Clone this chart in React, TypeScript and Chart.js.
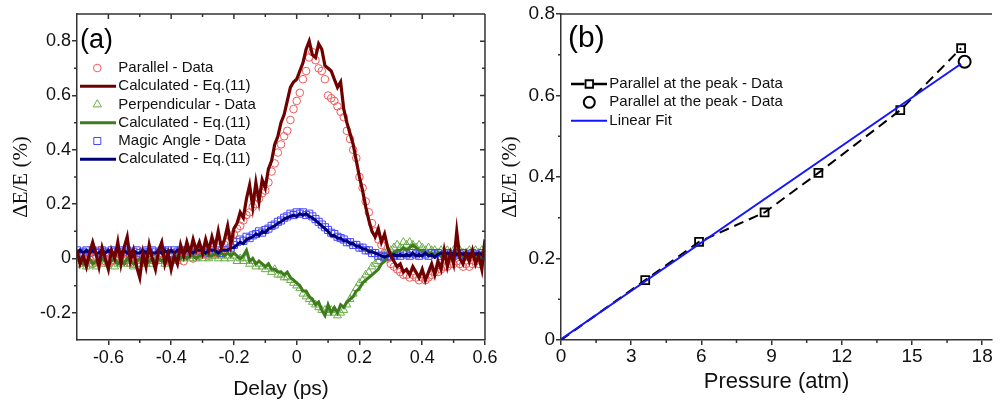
import React, { useEffect, useRef } from "react";
import { Chart, registerables } from "chart.js";

Chart.register(...registerables);

// ---------- Panel (a) data ----------
const delayPs = [
  -0.70, -0.69, -0.68, -0.67, -0.66, -0.65, -0.64, -0.63, -0.62, -0.61,
  -0.60, -0.59, -0.58, -0.57, -0.56, -0.55, -0.54, -0.53, -0.52, -0.51,
  -0.50, -0.49, -0.48, -0.47, -0.46, -0.45, -0.44, -0.43, -0.42, -0.41,
  -0.40, -0.39, -0.38, -0.37, -0.36, -0.35, -0.34, -0.33, -0.32, -0.31,
  -0.30, -0.29, -0.28, -0.27, -0.26, -0.25, -0.24, -0.23, -0.22, -0.21,
  -0.20, -0.19, -0.18, -0.17, -0.16, -0.15, -0.14, -0.13, -0.12, -0.11,
  -0.10, -0.09, -0.08, -0.07, -0.06, -0.05, -0.04, -0.03, -0.02, -0.01,
  0.00, 0.01, 0.02, 0.03, 0.04, 0.05, 0.06, 0.07, 0.08, 0.09,
  0.10, 0.11, 0.12, 0.13, 0.14, 0.15, 0.16, 0.17, 0.18, 0.19,
  0.20, 0.21, 0.22, 0.23, 0.24, 0.25, 0.26, 0.27, 0.28, 0.29,
  0.30, 0.31, 0.32, 0.33, 0.34, 0.35, 0.36, 0.37, 0.38, 0.39,
  0.40, 0.41, 0.42, 0.43, 0.44, 0.45, 0.46, 0.47, 0.48, 0.49,
  0.50, 0.51, 0.52, 0.53, 0.54, 0.55, 0.56, 0.57, 0.58, 0.59,
  0.60,
];

const parallelCalc = [
  0.03, -0.02, 0.01, -0.03, 0.02, 0.06, 0.02, -0.03, 0.04, 0.00,
  -0.04, 0.03, 0.00, 0.06, -0.02, 0.04, 0.08, -0.01, 0.03, -0.03,
  -0.07, 0.02, -0.03, 0.05, 0.00, -0.04, 0.03, 0.06, -0.02, 0.02,
  -0.04, 0.01, -0.02, 0.05, 0.01, 0.06, 0.02, 0.07, 0.03, 0.06,
  0.02, 0.07, 0.03, 0.08, 0.04, 0.10, 0.04, 0.07, 0.12, 0.05,
  0.11, 0.13, 0.17, 0.15, 0.22, 0.27, 0.19, 0.28, 0.21, 0.29,
  0.26, 0.33, 0.36, 0.42, 0.45, 0.50, 0.53, 0.58, 0.63, 0.65,
  0.66, 0.69, 0.72, 0.77, 0.80, 0.75, 0.74, 0.79, 0.77, 0.71,
  0.70, 0.69, 0.66, 0.63, 0.65, 0.55, 0.50, 0.46, 0.42, 0.36,
  0.30, 0.25, 0.19, 0.14, 0.10, 0.08, 0.11, 0.06, 0.09, 0.04,
  0.01, -0.01, -0.03, -0.02, -0.05, -0.04, -0.06, -0.03, -0.05, -0.07,
  -0.04, -0.08, -0.05, -0.02, -0.06, -0.01, -0.04, 0.03, -0.03, 0.02,
  -0.02, 0.10, 0.00, -0.02, 0.02, -0.01, 0.03, -0.02, 0.01, -0.04,
  0.07,
];

const perpendicularCalc = [
  -0.01, 0.00, -0.02, -0.01, 0.00, -0.02, -0.01, -0.02, 0.00, -0.01,
  -0.02, -0.01, 0.00, -0.02, -0.01, -0.02, 0.00, -0.01, -0.02, -0.01,
  0.00, -0.01, -0.02, -0.01, 0.00, -0.01, 0.00, -0.01, 0.00, -0.01,
  0.00, 0.00, 0.01, 0.00, 0.01, 0.00, 0.01, 0.01, 0.00, 0.01,
  0.01, 0.02, 0.01, 0.01, 0.02, 0.01, 0.02, 0.01, 0.02, 0.01,
  0.02, 0.01, 0.00, 0.01, 0.03, -0.01, 0.00, -0.02, -0.01, -0.02,
  -0.03, -0.02, -0.04, -0.04, -0.05, -0.05, -0.06, -0.05, -0.07, -0.08,
  -0.09, -0.10, -0.12, -0.12, -0.14, -0.15, -0.17, -0.16, -0.19, -0.21,
  -0.17, -0.20, -0.18, -0.20, -0.17, -0.18, -0.16, -0.15, -0.14, -0.12,
  -0.11, -0.09, -0.08, -0.07, -0.06, -0.05, -0.04, -0.02, -0.01, 0.01,
  0.02, 0.02, 0.03, 0.03, 0.04, 0.03, 0.04, 0.05, 0.04, 0.03,
  0.03, 0.02, 0.02, 0.02, 0.01, 0.02, 0.01, 0.02, 0.01, 0.02,
  0.01, 0.02, 0.01, 0.01, 0.02, 0.01, 0.02, 0.01, 0.02, 0.01,
  0.02,
];

const magicCalc = [
  0.02, 0.03, 0.02, 0.03, 0.02, 0.03, 0.02, 0.02, 0.03, 0.02,
  0.03, 0.02, 0.02, 0.03, 0.02, 0.03, 0.02, 0.02, 0.03, 0.02,
  0.02, 0.03, 0.02, 0.03, 0.02, 0.02, 0.03, 0.02, 0.03, 0.02,
  0.03, 0.02, 0.03, 0.03, 0.02, 0.03, 0.03, 0.02, 0.03, 0.03,
  0.03, 0.02, 0.03, 0.03, 0.03, 0.02, 0.03, 0.03, 0.03, 0.04,
  0.04, 0.05, 0.06, 0.055, 0.07, 0.075, 0.08, 0.09, 0.085, 0.10,
  0.095, 0.11, 0.115, 0.12, 0.13, 0.135, 0.145, 0.15, 0.155, 0.16,
  0.155, 0.165, 0.16, 0.165, 0.155, 0.15, 0.14, 0.13, 0.12, 0.11,
  0.10, 0.085, 0.085, 0.075, 0.075, 0.065, 0.065, 0.055, 0.055, 0.045,
  0.045, 0.035, 0.035, 0.025, 0.025, 0.02, 0.015, 0.01, 0.005, 0.01,
  0.01, 0.015, 0.01, 0.015, 0.01, 0.015, 0.01, 0.02, 0.01, 0.015,
  0.01, 0.02, 0.01, 0.015, 0.005, 0.015, 0.02, 0.015, 0.02, 0.015,
  0.02, 0.015, 0.02, 0.015, 0.02, 0.015, 0.02, 0.015, 0.02, 0.015,
  0.02,
];

const parallelData = [
  -0.02, 0.01, -0.01, 0.02, 0.00, -0.02, 0.01, 0.03, -0.01, 0.01,
  0.02, -0.01, 0.00, 0.02, 0.01, -0.01, 0.02, 0.00, -0.02, 0.01,
  0.00, -0.01, 0.02, 0.00, 0.01, -0.01, 0.01, 0.02, 0.00, -0.01,
  0.01, 0.00, 0.02, 0.01, -0.01, 0.01, 0.02, 0.00, 0.03, 0.01,
  0.02, 0.03, 0.01, 0.03, 0.02, 0.04, 0.03, 0.05, 0.06, 0.08,
  0.09, 0.11, 0.12, 0.14, 0.16, 0.17, 0.19, 0.20, 0.22, 0.24,
  0.25, 0.28, 0.32, 0.35, 0.39, 0.42, 0.45, 0.47, 0.51, 0.55,
  0.58, 0.61, 0.66, 0.69, 0.74, 0.76, 0.73, 0.70, 0.69, 0.66,
  0.60, 0.59, 0.58, 0.56, 0.54, 0.52, 0.47, 0.44, 0.40, 0.37,
  0.30, 0.26, 0.21, 0.17, 0.13, 0.10, 0.07, 0.05, 0.02, 0.00,
  -0.02, -0.03, -0.04, -0.05, -0.06, -0.06, -0.07, -0.06, -0.07, -0.08,
  -0.07, -0.08, -0.07, -0.06, -0.05, -0.05, -0.04, -0.03, -0.03, -0.02,
  -0.02, -0.01, -0.02, -0.03, -0.02, -0.03, -0.02, -0.01, -0.02, 0.00,
  0.01,
];

const perpendicularData = [
  -0.01, -0.02, 0.00, -0.03, -0.01, -0.02, -0.03, -0.01, -0.02, 0.00,
  -0.02, -0.01, -0.03, -0.02, -0.01, -0.02, -0.01, -0.02, -0.03, -0.01,
  -0.02, -0.01, -0.02, -0.01, -0.02, -0.01, 0.00, -0.01, -0.02, -0.01,
  -0.01, 0.00, -0.01, 0.00, 0.00, 0.01, 0.00, 0.01, 0.00, 0.01,
  0.00, 0.01, 0.00, 0.01, 0.01, 0.00, 0.01, 0.00, 0.01, 0.00,
  0.01, -0.01, 0.00, -0.01, 0.00, -0.02, -0.01, -0.03, -0.02, -0.03,
  -0.04, -0.03, -0.05, -0.04, -0.06, -0.06, -0.07, -0.07, -0.08, -0.09,
  -0.10, -0.11, -0.13, -0.14, -0.15, -0.16, -0.17, -0.18, -0.19, -0.19,
  -0.20, -0.19, -0.20, -0.21, -0.20, -0.19, -0.17, -0.15, -0.13, -0.11,
  -0.09, -0.08, -0.06, -0.05, -0.03, -0.02, -0.01, 0.01, 0.02, 0.03,
  0.03, 0.04, 0.05, 0.04, 0.06, 0.05, 0.06, 0.05, 0.04, 0.05,
  0.04, 0.03, 0.04, 0.03, 0.03, 0.02, 0.03, 0.02, 0.03, 0.02,
  0.03, 0.02, 0.03, 0.02, 0.02, 0.03, 0.02, 0.03, 0.02, 0.03,
  0.02,
];

const magicData = [
  0.03, 0.02, 0.025, 0.03, 0.02, 0.03, 0.025, 0.02, 0.03, 0.025,
  0.02, 0.03, 0.025, 0.02, 0.03, 0.025, 0.03, 0.02, 0.025, 0.03,
  0.02, 0.025, 0.03, 0.02, 0.03, 0.025, 0.02, 0.03, 0.025, 0.03,
  0.02, 0.03, 0.025, 0.03, 0.02, 0.03, 0.025, 0.03, 0.02, 0.03,
  0.025, 0.03, 0.02, 0.03, 0.025, 0.03, 0.02, 0.03, 0.03, 0.04,
  0.05, 0.06, 0.07, 0.065, 0.08, 0.075, 0.085, 0.09, 0.10, 0.095,
  0.105, 0.11, 0.12, 0.125, 0.135, 0.14, 0.15, 0.155, 0.165, 0.16,
  0.17, 0.165, 0.17, 0.16, 0.165, 0.155, 0.145, 0.135, 0.125, 0.115,
  0.105, 0.095, 0.09, 0.08, 0.075, 0.07, 0.06, 0.06, 0.05, 0.05,
  0.04, 0.04, 0.03, 0.03, 0.02, 0.02, 0.01, 0.01, 0.005, 0.01,
  0.005, 0.01, 0.015, 0.01, 0.02, 0.015, 0.01, 0.02, 0.015, 0.01,
  0.02, 0.015, 0.01, 0.02, 0.015, 0.02, 0.01, 0.015, 0.02, 0.015,
  0.01, 0.02, 0.015, 0.02, 0.01, 0.015, 0.02, 0.015, 0.01, 0.02,
  0.015,
];

const delayTicks = [-0.6, -0.4, -0.2, 0, 0.2, 0.4, 0.6];
const delayTickLabels = ["-0.6", "-0.4", "-0.2", "0", "0.2", "0.4", "0.6"];
const delayMinorTicks = [-0.5, -0.3, -0.1, 0.1, 0.3, 0.5];
const deltaTicksA = [-0.2, 0, 0.2, 0.4, 0.6, 0.8];
const deltaTickLabelsA = ["-0.2", "0", "0.2", "0.4", "0.6", "0.8"];
const deltaMinorTicksA = [-0.1, 0.1, 0.3, 0.5, 0.7];

// ---------- Panel (b) data ----------
const pressureAtm = [0, 3.6, 5.9, 8.7, 11.0, 14.5, 17.1];
const peakParallel = [0, 0.147, 0.241, 0.313, 0.41, 0.564, 0.716];
const extraPressure = [17.25];
const extraPeak = [0.683];
const fitPressure = [0, 17.1];
const fitPeak = [0.002, 0.678];

const pressureTicks = [0, 3, 6, 9, 12, 15, 18];
const pressureTickLabels = ["0", "3", "6", "9", "12", "15", "18"];
const pressureMinorTicks = [1.5, 4.5, 7.5, 10.5, 13.5, 16.5];
const deltaTicksB = [0, 0.2, 0.4, 0.6, 0.8];
const deltaTickLabelsB = ["0", "0.2", "0.4", "0.6", "0.8"];
const deltaMinorTicksB = [0.1, 0.3, 0.5, 0.7];

// ---------- styling ----------
const SANS = '"Liberation Sans", Arial, sans-serif';
const SERIF = '"Liberation Serif", "Times New Roman", serif';
const AXIS = "#333333";
const TEXT = "#111111";

const C_PAR_LINE = "#6e0000";
const C_PERP_LINE = "#3f7c1e";
const C_MAGIC_LINE = "#00007a";
const C_PAR_PT = "#ee5a5a";
const C_PERP_PT = "#6aae48";
const C_MAGIC_PT = "#4646ff";
const C_FIT = "#1414ff";

const pts = (xs: number[], ys: number[]) => xs.map((x, i) => ({ x, y: ys[i] }));

type LegendItem = {
  kind: "circle" | "triangle" | "square" | "line" | "lineSquare";
  color: string;
  width: number;
  size: number;
  text: string;
};

type Decor = {
  xMinor: number[];
  yMinor: number[];
  xMajor: number[];
  yMajor: number[];
  mirror: boolean;
  topLine: boolean;
  label: string;
  labelFont: string;
  labelX: number;
  labelY: number;
  legend: LegendItem[];
  legSym: number;
  legLine0: number;
  legLine1: number;
  legText: number;
  legY0: number;
  legStep: number;
  legFont: string;
};

function drawSymbol(ctx: CanvasRenderingContext2D, it: LegendItem, cx: number, cy: number, x0: number, x1: number) {
  ctx.save();
  ctx.strokeStyle = it.color;
  ctx.lineWidth = it.width;
  ctx.setLineDash([]);
  ctx.beginPath();
  if (it.kind === "circle") {
    ctx.arc(cx, cy, it.size, 0, Math.PI * 2);
  } else if (it.kind === "triangle") {
    const r = it.size;
    ctx.moveTo(cx, cy - r);
    ctx.lineTo(cx + 0.866 * r, cy + 0.5 * r);
    ctx.lineTo(cx - 0.866 * r, cy + 0.5 * r);
    ctx.closePath();
  } else if (it.kind === "square") {
    const h = it.size / 2;
    ctx.rect(cx - h, cy - h, it.size, it.size);
  } else if (it.kind === "line") {
    ctx.moveTo(x0, cy);
    ctx.lineTo(x1, cy);
  } else if (it.kind === "lineSquare") {
    const h = it.size / 2;
    ctx.moveTo(x0, cy);
    ctx.lineTo(cx - h - 1, cy);
    ctx.moveTo(cx + h + 1, cy);
    ctx.lineTo(x1, cy);
    ctx.stroke();
    ctx.beginPath();
    ctx.lineWidth = 1.8;
    ctx.rect(cx - h, cy - h, it.size, it.size);
  }
  ctx.stroke();
  ctx.restore();
}

function makeDecor(d: Decor) {
  return {
    id: "decor",
    afterDraw(chart: any) {
      const ctx: CanvasRenderingContext2D = chart.ctx;
      const { left, right, top, bottom } = chart.chartArea;
      const xs = chart.scales.x;
      const ys = chart.scales.y;
      ctx.save();
      ctx.strokeStyle = AXIS;
      ctx.lineWidth = 1.5;
      ctx.beginPath();
      for (const v of d.xMinor) {
        const p = xs.getPixelForValue(v);
        ctx.moveTo(p, bottom);
        ctx.lineTo(p, bottom + 3);
      }
      for (const v of d.yMinor) {
        const p = ys.getPixelForValue(v);
        ctx.moveTo(left, p);
        ctx.lineTo(left - 3, p);
      }
      if (d.topLine || d.mirror) {
        ctx.moveTo(left, top);
        ctx.lineTo(right, top);
      }
      if (d.mirror) {
        ctx.moveTo(right, top);
        ctx.lineTo(right, bottom);
        for (const v of d.xMajor) {
          const p = xs.getPixelForValue(v);
          ctx.moveTo(p, top);
          ctx.lineTo(p, top + 5);
        }
        for (const v of d.xMinor) {
          const p = xs.getPixelForValue(v);
          ctx.moveTo(p, top);
          ctx.lineTo(p, top + 3);
        }
        for (const v of d.yMajor) {
          const p = ys.getPixelForValue(v);
          ctx.moveTo(right, p);
          ctx.lineTo(right - 5, p);
        }
        for (const v of d.yMinor) {
          const p = ys.getPixelForValue(v);
          ctx.moveTo(right, p);
          ctx.lineTo(right - 3, p);
        }
      }
      ctx.stroke();

      // panel label
      ctx.fillStyle = "#000";
      ctx.font = d.labelFont;
      ctx.textAlign = "left";
      ctx.textBaseline = "alphabetic";
      ctx.fillText(d.label, left + d.labelX, top + d.labelY);

      // legend
      ctx.font = d.legFont;
      ctx.textBaseline = "middle";
      ctx.fillStyle = TEXT;
      d.legend.forEach((it, i) => {
        const cy = top + d.legY0 + i * d.legStep;
        drawSymbol(ctx, it, left + d.legSym, cy, left + d.legLine0, left + d.legLine1);
        ctx.fillStyle = TEXT;
        ctx.fillText(it.text, left + d.legText, cy);
      });
      ctx.restore();
    },
  };
}

function axisCommon(size: number) {
  return {
    grid: {
      display: true,
      drawOnChartArea: false,
      drawTicks: true,
      tickLength: 5,
      color: AXIS,
      lineWidth: 1.5,
    },
    border: { display: true, color: AXIS, width: 1.5 },
    fontSpec: { family: SANS, size },
  };
}

function configA(): any {
  const ca = axisCommon(18);
  return {
    type: "line",
    data: {
      datasets: [
        { label: "Calculated - Eq.(11)", data: pts(delayPs, parallelCalc), borderColor: C_PAR_LINE, borderWidth: 3.2, pointRadius: 0, tension: 0 },
        { label: "Calculated - Eq.(11) magic", data: pts(delayPs, magicCalc), borderColor: C_MAGIC_LINE, borderWidth: 3, pointRadius: 0, tension: 0 },
        { label: "Calculated - Eq.(11) perp", data: pts(delayPs, perpendicularCalc), borderColor: C_PERP_LINE, borderWidth: 3, pointRadius: 0, tension: 0 },
        { label: "Parallel - Data", data: pts(delayPs, parallelData), showLine: false, pointStyle: "circle", pointRadius: 3.8, pointBorderWidth: 1, pointBorderColor: C_PAR_PT, pointBackgroundColor: "rgba(0,0,0,0)" },
        { label: "Magic Angle - Data", data: pts(delayPs, magicData), showLine: false, pointStyle: "rect", pointRadius: 5, pointBorderWidth: 1, pointBorderColor: C_MAGIC_PT, pointBackgroundColor: "rgba(0,0,0,0)" },
        { label: "Perpendicular - Data", data: pts(delayPs, perpendicularData), showLine: false, pointStyle: "triangle", pointRadius: 4.6, pointBorderWidth: 1, pointBorderColor: C_PERP_PT, pointBackgroundColor: "rgba(0,0,0,0)" },
      ],
    },
    options: {
      animation: false,
      responsive: false,
      devicePixelRatio: 1,
      events: [],
      layout: { padding: { left: 0, right: 15, top: 14, bottom: 0 } },
      plugins: { legend: { display: false }, tooltip: { enabled: false } },
      scales: {
        x: {
          type: "linear",
          min: -0.7,
          max: 0.6,
          afterBuildTicks: (s: any) => { s.ticks = delayTicks.map((v) => ({ value: v })); },
          afterFit: (s: any) => { s.height = 62; },
          ticks: { font: ca.fontSpec, color: TEXT, padding: 2.5, maxRotation: 0, autoSkip: false, callback: (_v: any, i: number) => delayTickLabels[i] },
          grid: ca.grid,
          border: ca.border,
          title: { display: true, text: "Delay (ps)", color: TEXT, font: { family: SANS, size: 21 }, padding: { top: 0, bottom: 0 } },
        },
        y: {
          type: "linear",
          min: -0.3,
          max: 0.9,
          afterBuildTicks: (s: any) => { s.ticks = deltaTicksA.map((v) => ({ value: v })); },
          afterFit: (s: any) => { s.width = 77; },
          ticks: { font: ca.fontSpec, color: TEXT, padding: 1, autoSkip: false, callback: (_v: any, i: number) => deltaTickLabelsA[i] },
          grid: ca.grid,
          border: ca.border,
          title: { display: true, text: "ΔE/E (%)", color: TEXT, font: { family: SERIF, size: 21, lineHeight: 1 }, padding: { top: 11, bottom: 0 } },
        },
      },
    },
    plugins: [
      makeDecor({
        xMinor: delayMinorTicks,
        yMinor: deltaMinorTicksA,
        xMajor: delayTicks,
        yMajor: deltaTicksA,
        mirror: true,
        topLine: true,
        label: "(a)",
        labelFont: `27px ${SANS}`,
        labelX: 3,
        labelY: 34,
        legend: [
          { kind: "circle", color: C_PAR_PT, width: 1, size: 3.8, text: "Parallel - Data" },
          { kind: "line", color: C_PAR_LINE, width: 3, size: 0, text: "Calculated - Eq.(11)" },
          { kind: "triangle", color: C_PERP_PT, width: 1, size: 4.8, text: "Perpendicular - Data" },
          { kind: "line", color: C_PERP_LINE, width: 3, size: 0, text: "Calculated - Eq.(11)" },
          { kind: "square", color: C_MAGIC_PT, width: 1, size: 7, text: "Magic Angle - Data" },
          { kind: "line", color: C_MAGIC_LINE, width: 3, size: 0, text: "Calculated - Eq.(11)" },
        ],
        legSym: 20.3,
        legLine0: 3,
        legLine1: 39,
        legText: 41.3,
        legY0: 54,
        legStep: 18.25,
        legFont: `15px ${SANS}`,
      }),
    ],
  };
}

function configB(): any {
  const cb = axisCommon(19);
  return {
    type: "line",
    data: {
      datasets: [
        { label: "Linear Fit", data: pts(fitPressure, fitPeak), borderColor: C_FIT, borderWidth: 2, pointRadius: 0, tension: 0 },
        { label: "Parallel at the peak - Data (circle)", data: pts(extraPressure, extraPeak), showLine: false, pointStyle: "circle", pointRadius: 6, pointBorderWidth: 2, pointBorderColor: "#000", pointBackgroundColor: "rgba(0,0,0,0)" },
        {
          label: "Parallel at the peak - Data",
          data: pts(pressureAtm, peakParallel),
          borderColor: "#000",
          borderWidth: 2,
          borderDash: [10, 6],
          tension: 0,
          pointStyle: "rect",
          pointRadius: pressureAtm.map((p) => (p === 0 ? 0 : 5.6)),
          pointBorderWidth: 1.8,
          pointBorderColor: "#000",
          pointBackgroundColor: "rgba(0,0,0,0)",
        },
      ],
    },
    options: {
      animation: false,
      responsive: false,
      devicePixelRatio: 1,
      events: [],
      layout: { padding: { left: 0, right: 0, top: 14, bottom: 0 } },
      plugins: { legend: { display: false }, tooltip: { enabled: false } },
      scales: {
        x: {
          type: "linear",
          min: 0,
          max: 18.42,
          afterBuildTicks: (s: any) => { s.ticks = pressureTicks.map((v) => ({ value: v })); },
          afterFit: (s: any) => { s.height = 62; },
          ticks: { font: cb.fontSpec, color: TEXT, padding: 0, maxRotation: 0, autoSkip: false, callback: (_v: any, i: number) => pressureTickLabels[i] },
          grid: cb.grid,
          border: cb.border,
          title: { display: true, text: "Pressure (atm)", color: TEXT, font: { family: SANS, size: 22 }, padding: { top: 0, bottom: 7 } },
        },
        y: {
          type: "linear",
          min: 0,
          max: 0.8,
          afterBuildTicks: (s: any) => { s.ticks = deltaTicksB.map((v) => ({ value: v })); },
          afterFit: (s: any) => { s.width = 61; },
          ticks: { font: cb.fontSpec, color: TEXT, padding: 1, autoSkip: false, callback: (_v: any, i: number) => deltaTickLabelsB[i] },
          grid: cb.grid,
          border: cb.border,
          title: { display: true, text: "ΔE/E (%)", color: TEXT, font: { family: SERIF, size: 21, lineHeight: 1 }, padding: { top: 0, bottom: 0 } },
        },
      },
    },
    plugins: [
      makeDecor({
        xMinor: pressureMinorTicks,
        yMinor: deltaMinorTicksB,
        xMajor: pressureTicks,
        yMajor: deltaTicksB,
        mirror: false,
        topLine: true,
        label: "(b)",
        labelFont: `30px ${SANS}`,
        labelX: 7,
        labelY: 33,
        legend: [
          { kind: "lineSquare", color: "#000", width: 2.5, size: 7.5, text: "Parallel at the peak - Data" },
          { kind: "circle", color: "#000", width: 2, size: 5.5, text: "Parallel at the peak - Data" },
          { kind: "line", color: C_FIT, width: 2, size: 0, text: "Linear Fit" },
        ],
        legSym: 28.3,
        legLine0: 10,
        legLine1: 46,
        legText: 48.3,
        legY0: 70,
        legStep: 18.35,
        legFont: `15px ${SANS}`,
      }),
    ],
  };
}

export default function App() {
  const refA = useRef<HTMLCanvasElement>(null);
  const refB = useRef<HTMLCanvasElement>(null);

  useEffect(() => {
    const a = new Chart(refA.current as HTMLCanvasElement, configA());
    const b = new Chart(refB.current as HTMLCanvasElement, configB());
    return () => {
      a.destroy();
      b.destroy();
    };
  }, []);

  return (
    <div style={{ position: "fixed", left: 0, top: 0, width: 1000, height: 402, background: "#fff", overflow: "hidden" }}>
      <canvas ref={refA} width={500} height={402} style={{ position: "absolute", left: 0, top: 0, width: 500, height: 402 }} />
      <canvas ref={refB} width={500} height={402} style={{ position: "absolute", left: 500, top: 0, width: 500, height: 402 }} />
    </div>
  );
}
